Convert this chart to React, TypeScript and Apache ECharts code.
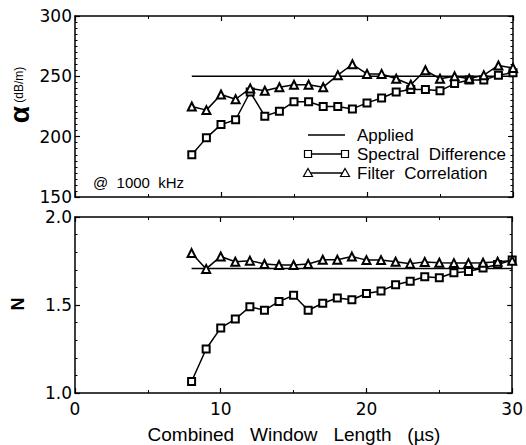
import React, { useEffect, useRef } from "react";
import * as echarts from "echarts";

const windowLengths = [8, 9, 10, 11, 12, 13, 14, 15, 16, 17, 18, 19, 20, 21, 22, 23, 24, 25, 26, 27, 28, 29, 30];
const alphaSpectral = [185, 199, 210, 214, 237, 217, 221, 229, 229, 225, 225, 223, 228, 232, 237, 239, 239, 238, 244, 247, 247, 251, 253];
const alphaFilter = [225, 222, 235, 231, 240, 238, 241, 243, 243, 241, 251, 260, 252, 252, 248, 243, 255, 248, 250, 248, 251, 259, 257];
const nSpectral = [1.065, 1.25, 1.37, 1.42, 1.49, 1.47, 1.52, 1.555, 1.47, 1.51, 1.54, 1.53, 1.565, 1.58, 1.615, 1.635, 1.66, 1.655, 1.683, 1.69, 1.71, 1.73, 1.755];
const nFilter = [1.795, 1.705, 1.776, 1.746, 1.752, 1.733, 1.727, 1.727, 1.733, 1.757, 1.757, 1.775, 1.755, 1.755, 1.746, 1.735, 1.745, 1.74, 1.738, 1.738, 1.74, 1.746, 1.752];
const appliedAlpha = 250;
const appliedN = 1.707;
const appliedRange = [8, 30];
const legendLabels = ["Applied", "Spectral  Difference", "Filter  Correlation"];
const noteText = "@  1000  kHz";
const xTitle = "Combined   Window   Length   (\u00b5s)";

const FONT = "Liberation Sans";
const TICKFONT = "DejaVu Sans";

function pairs(xs: number[], ys: number[]) {
  return xs.map((x, i) => [x, ys[i]]);
}

export default function App() {
  const ref = useRef<HTMLDivElement>(null);
  useEffect(() => {
    if (!ref.current) return;
    const chart = echarts.init(ref.current, null, { renderer: "svg" });
    const axisLine = { show: true, onZero: false, lineStyle: { color: "#000", width: 1.5 } };
    const xBase = (gridIndex: number, position: string, labels: boolean) => ({
      type: "value",
      gridIndex,
      position,
      min: 0,
      max: 30,
      interval: 10,
      axisLine,
      axisTick: { show: true, inside: true, length: 5, lineStyle: { color: "#000", width: 1.2 } },
      minorTick: { show: true, splitNumber: 2, length: 3, lineStyle: { color: "#000", width: 1 } },
      splitLine: { show: false },
      minorSplitLine: { show: false },
      axisLabel: labels
        ? { show: true, color: "#000", fontFamily: TICKFONT, fontSize: 17, margin: 7 }
        : { show: false },
    });
    const yBase = (gridIndex: number, position: string, min: number, max: number, interval: number, minorSplit: number, labels: boolean, digits: number) => ({
      type: "value",
      gridIndex,
      position,
      min,
      max,
      interval,
      axisLine,
      axisTick: { show: true, inside: true, length: 5, lineStyle: { color: "#000", width: 1.2 } },
      minorTick: { show: true, splitNumber: minorSplit, length: 2.5, lineStyle: { color: "#000", width: 1 } },
      splitLine: { show: false },
      minorSplitLine: { show: false },
      axisLabel: labels
        ? {
            show: true,
            color: "#000",
            fontFamily: TICKFONT,
            fontSize: 17,
            margin: 3,
            formatter: (v: number) => v.toFixed(digits),
          }
        : { show: false },
    });

    const lineSeries = (name: string, xi: number, yi: number, data: number[][], symbol: string, size: number) => ({
      name,
      type: "line",
      xAxisIndex: xi,
      yAxisIndex: yi,
      data,
      symbol,
      symbolSize: size,
      showSymbol: symbol !== "none",
      color: "#000",
      itemStyle: { color: "#000", borderColor: "#000", borderWidth: 1.2 },
      lineStyle: { color: "#000", width: 1.5 },
      z: 3,
    });

    const legendRows = [135, 154, 173];
    const lx0 = 308;
    const lx1 = 345;
    const graphic: any[] = [];
    legendRows.forEach((y, i) => {
      graphic.push({ type: "line", shape: { x1: lx0, y1: y, x2: lx1, y2: y }, style: { stroke: "#000", lineWidth: 1.5 } });
      graphic.push({
        type: "text",
        x: 357,
        y,
        style: { text: legendLabels[i], fontFamily: FONT, fontSize: 17, fill: "#000", align: "left", verticalAlign: "middle" },
      });
    });
    [lx0, lx1].forEach((x) => {
      graphic.push({ type: "rect", shape: { x: x - 3.5, y: legendRows[1] - 3.5, width: 7, height: 7 }, style: { fill: "#fff", stroke: "#000", lineWidth: 1.2 }, z: 10 });
      graphic.push({
        type: "polygon",
        shape: { points: [[x, legendRows[2] - 4.5], [x + 4.5, legendRows[2] + 3.5], [x - 4.5, legendRows[2] + 3.5]] },
        style: { fill: "#fff", stroke: "#000", lineWidth: 1.2 },
        z: 10,
      });
    });
    graphic.push({
      type: "text",
      x: 93,
      y: 182,
      style: { text: noteText, fontFamily: FONT, fontSize: 15, fill: "#000", align: "left", verticalAlign: "middle" },
    });
    graphic.push({
      type: "text",
      x: 19,
      y: 95,
      rotation: Math.PI / 2,
      style: {
        text: "{a|\u03b1} {b|(dB/m)}",
        align: "center",
        verticalAlign: "middle",
        fill: "#000",
        rich: {
          a: { fontFamily: FONT, fontSize: 28, fontWeight: "bold", fill: "#000" },
          b: { fontFamily: FONT, fontSize: 12, fill: "#000" },
        },
      },
    });
    graphic.push({
      type: "text",
      x: 18,
      y: 304,
      rotation: Math.PI / 2,
      style: { text: "N", fontFamily: FONT, fontSize: 18, fontWeight: "bold", fill: "#000", align: "center", verticalAlign: "middle" },
    });
    graphic.push({
      type: "text",
      x: 294,
      y: 434,
      style: { text: xTitle, fontFamily: FONT, fontSize: 19, fill: "#000", align: "center", verticalAlign: "middle" },
    });

    const option: any = {
      animation: false,
      backgroundColor: "#fff",
      grid: [
        { left: 75, top: 16, width: 438, height: 181 },
        { left: 75, top: 217, width: 438, height: 176 },
      ],
      xAxis: [xBase(0, "bottom", false), xBase(0, "top", false), xBase(1, "bottom", true), xBase(1, "top", false)],
      yAxis: [
        yBase(0, "left", 150, 300, 50, 10, true, 0),
        yBase(0, "right", 150, 300, 50, 10, false, 0),
        yBase(1, "left", 1, 2, 0.5, 5, true, 1),
        yBase(1, "right", 1, 2, 0.5, 5, false, 1),
      ],
      series: [
        lineSeries("Applied", 0, 0, appliedRange.map((x) => [x, appliedAlpha]), "none", 0),
        lineSeries("Spectral Difference", 0, 0, pairs(windowLengths, alphaSpectral), "emptyRect", 7),
        lineSeries("Filter Correlation", 0, 0, pairs(windowLengths, alphaFilter), "emptyTriangle", 8),
        lineSeries("Applied N", 2, 2, appliedRange.map((x) => [x, appliedN]), "none", 0),
        lineSeries("Spectral Difference N", 2, 2, pairs(windowLengths, nSpectral), "emptyRect", 7),
        lineSeries("Filter Correlation N", 2, 2, pairs(windowLengths, nFilter), "emptyTriangle", 8),
      ],
      graphic,
    };
    chart.setOption(option);
    return () => chart.dispose();
  }, []);
  return <div ref={ref} style={{ position: "absolute", left: 0, top: 0, width: 526, height: 445 }} />;
}
